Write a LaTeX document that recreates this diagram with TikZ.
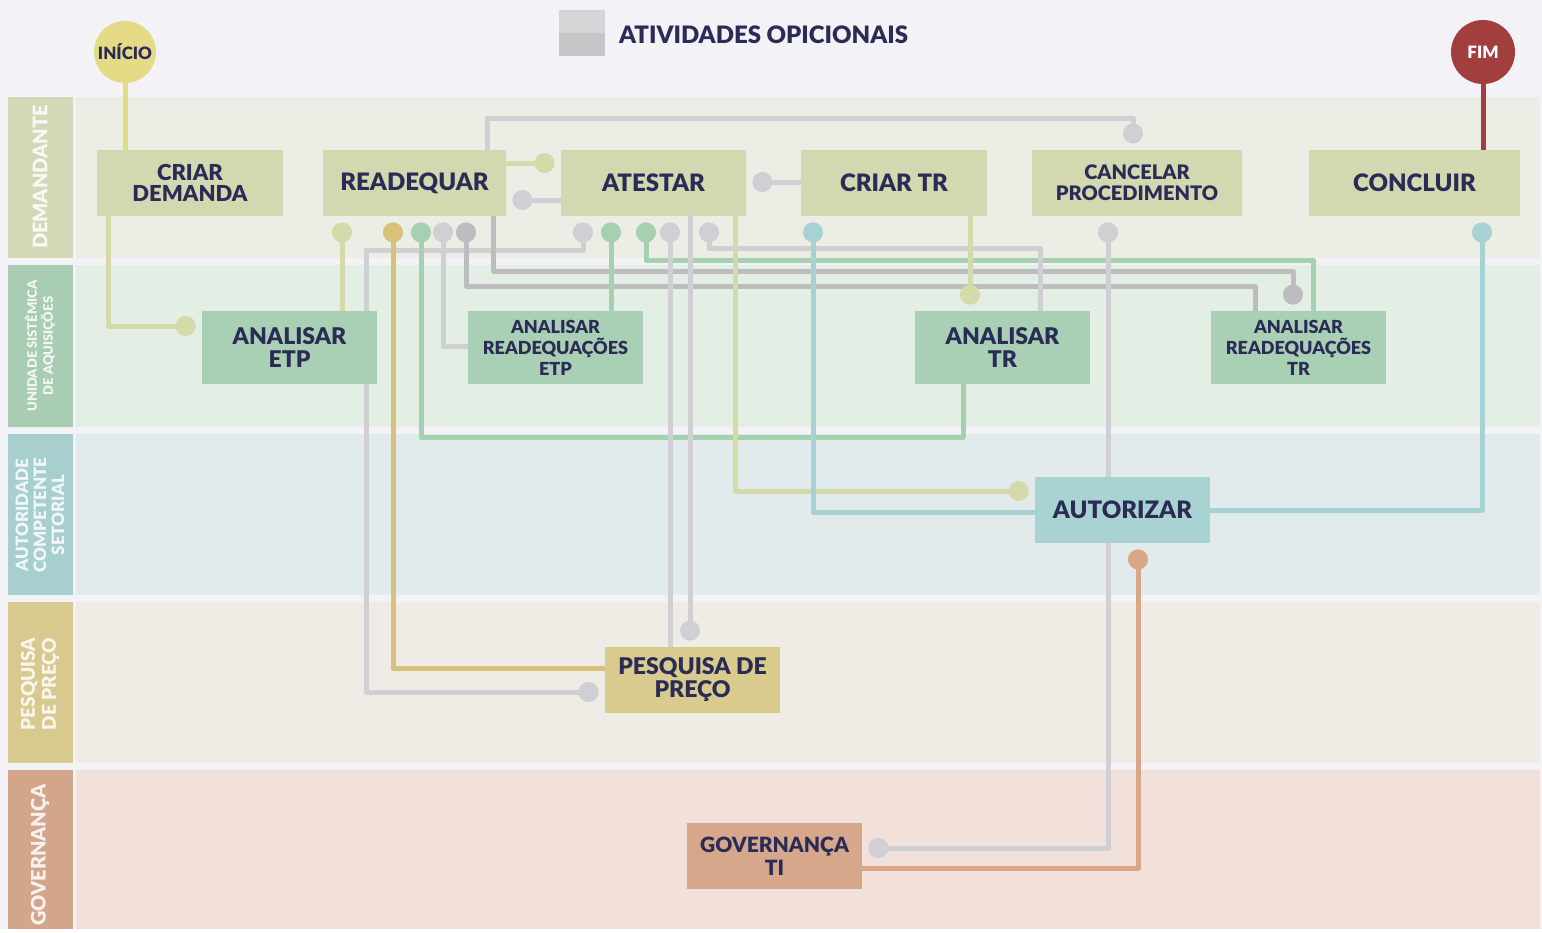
\documentclass[tikz,border=0pt]{standalone}
\usepackage{fontspec}
\setmainfont{Lato}[BoldFont={Lato Black}]
\usetikzlibrary{arrows.meta}
\definecolor{bgtop}{HTML}{F3F3F7}
\definecolor{navy}{HTML}{2A2C55}
\definecolor{hDem}{HTML}{D3D9B6}\definecolor{bDem}{HTML}{ECEEE6}
\definecolor{hUsa}{HTML}{A8CDB2}\definecolor{bUsa}{HTML}{E3EEE5}
\definecolor{hAut}{HTML}{A7CFCE}\definecolor{bAut}{HTML}{E2EBEB}
\definecolor{hPes}{HTML}{D8C98F}\definecolor{bPes}{HTML}{EFEBE5}
\definecolor{hGov}{HTML}{D3A58B}\definecolor{bGov}{HTML}{F2E0DA}
\definecolor{fDem}{HTML}{D2D9B1}
\definecolor{fUsa}{HTML}{A9CFB4}
\definecolor{fAut}{HTML}{A9D2D2}
\definecolor{fPes}{HTML}{D9CA8E}
\definecolor{fGov}{HTML}{D6A78B}
\definecolor{cLg}{HTML}{D0D0D4}
\definecolor{cDg}{HTML}{BDBDC0}
\definecolor{cOl}{HTML}{D5DAAB}
\definecolor{cGr}{HTML}{A5D1B0}
\definecolor{cTe}{HTML}{A6D2D3}
\definecolor{cTa}{HTML}{D8C27A}
\definecolor{cSa}{HTML}{DBA588}
\definecolor{cYe}{HTML}{E5DA86}
\definecolor{cRe}{HTML}{A23E3D}
\definecolor{lgA}{HTML}{D6D6D8}
\definecolor{lgB}{HTML}{C6C6C8}
\pgfdeclarelayer{lanes}
\pgfdeclarelayer{links}
\pgfsetlayers{lanes,links,main}
\tikzset{
  conn/.style={line width=2.5pt, line join=round, shorten >=3pt, -{Circle[length=10pt,width=10pt]}},
  plainlink/.style={line width=2.5pt, line join=round},
  box/.style={rectangle, inner sep=0pt, align=center, text=navy, font=\bfseries\fontsize{12}{13}\selectfont},
  topbox/.style={box, fill=fDem, minimum height=33pt},
  usabox/.style={box, fill=fUsa, minimum height=36.5pt, minimum width=87.5pt},
  lanetxt/.style={rotate=90, align=center, text=white, text opacity=0.85, font=\bfseries},
  endcirc/.style={circle, inner sep=0pt, font=\bfseries\fontsize{8.5}{9}\selectfont}
}
\begin{document}
\begin{tikzpicture}[x=0.5pt,y=-0.5pt]
\begin{pgfonlayer}{lanes}
\fill[bgtop] (0,0) rectangle (1542,929);
\fill[hDem] (8,97) rectangle (73,258);   \fill[bDem] (76,97) rectangle (1540,258);
\fill[hUsa] (8,265) rectangle (73,427);  \fill[bUsa] (76,265) rectangle (1540,427);
\fill[hAut] (8,434) rectangle (73,595);  \fill[bAut] (76,434) rectangle (1540,595);
\fill[hPes] (8,602) rectangle (73,763);  \fill[bPes] (76,602) rectangle (1540,763);
\fill[hGov] (8,770) rectangle (73,929);  \fill[bGov] (76,770) rectangle (1540,929);
\fill[lgA] (559,10) rectangle (605,33);
\fill[lgB] (559,33) rectangle (605,56);
\end{pgfonlayer}

% lane labels
\node[lanetxt, font=\bfseries\fontsize{10}{11}\selectfont] (lDem) at (40,177) {DEMANDANTE};
\node[lanetxt, font=\bfseries\fontsize{6.5}{8}\selectfont] (lUsa) at (40,346) {UNIDADE SISTÊMICA\\DE AQUISIÇÕES};
\node[lanetxt, font=\bfseries\fontsize{8.5}{9}\selectfont] (lAut) at (40,515) {AUTORIDADE\\COMPETENTE\\SETORIAL};
\node[lanetxt, font=\bfseries\fontsize{9.5}{10.5}\selectfont] (lPes) at (40,684) {PESQUISA\\DE PREÇO};
\node[lanetxt, font=\bfseries\fontsize{10}{11}\selectfont] (lGov) at (40,855) {GOVERNANÇA};

% legend
\node[anchor=west, text=navy, font=\bfseries\fontsize{12}{13}\selectfont] (legtxt) at (612,35) {ATIVIDADES OPICIONAIS};

% start / end
\node[endcirc, fill=cYe, text=navy, minimum size=31pt] (inicio) at (125,52) {INÍCIO};
\node[endcirc, fill=cRe, text=white, minimum size=32pt] (fim) at (1483,52) {FIM};

% Demandante
\node[topbox, minimum width=93pt, font=\bfseries\fontsize{11}{10.5}\selectfont] (criard) at (190,183) {CRIAR\\DEMANDA};
\node[topbox, minimum width=91.5pt] (readeq) at (414.5,183) {READEQUAR};
\node[topbox, minimum width=92.5pt] (atestar) at (653.5,183) {ATESTAR};
\node[topbox, minimum width=93pt] (criartr) at (894,183) {CRIAR TR};
\node[topbox, minimum width=105pt, font=\bfseries\fontsize{10}{10.5}\selectfont] (cancelar) at (1137,183) {CANCELAR\\PROCEDIMENTO};
\node[topbox, minimum width=105.5pt] (concluir) at (1414.5,183) {CONCLUIR};

% Unidade sistemica
\node[usabox, font=\bfseries\fontsize{11.5}{11.5}\selectfont] (anaetp) at (289.5,347.5) {ANALISAR\\ETP};
\node[usabox, font=\bfseries\fontsize{9}{10.5}\selectfont] (anareetp) at (555.5,347.5) {ANALISAR\\READEQUAÇÕES\\ETP};
\node[usabox, font=\bfseries\fontsize{11.5}{11.5}\selectfont] (anatr) at (1002.5,347.5) {ANALISAR\\TR};
\node[usabox, font=\bfseries\fontsize{9}{10.5}\selectfont] (anaretr) at (1298.5,347.5) {ANALISAR\\READEQUAÇÕES\\TR};

% Autoridade
\node[box, fill=fAut, minimum width=87.5pt, minimum height=33pt] (autorizar) at (1122.5,510) {AUTORIZAR};
% Pesquisa
\node[box, fill=fPes, minimum width=87.5pt, minimum height=33pt, font=\bfseries\fontsize{11.5}{11.5}\selectfont] (pesquisa) at (692.5,680) {PESQUISA DE\\PREÇO};
% Governanca
\node[box, fill=fGov, minimum width=87.5pt, minimum height=33pt, font=\bfseries\fontsize{10.5}{11.5}\selectfont] (govti) at (774.5,856) {GOVERNANÇA\\TI};

\begin{pgfonlayer}{links}
\draw[plainlink, cYe] (inicio.south) -- (inicio.south |- criard.north);
\draw[plainlink, cRe] (fim.south |- concluir.north) -- (fim.south);
% C3
\draw[conn, cOl] (criard.south -| 108,0) |- (anaetp.west |- 0,326);
% C4
\draw[conn, cOl] (anaetp.north -| 342,0) -- (readeq.south -| 342,0);
% C5
\draw[conn, cLg] (anaetp.north -| 366,0) |- (583,250) -- (atestar.south -| 583,0);
% C6
\draw[conn, cLg] (anaetp.south -| 366,0) |- (pesquisa.west |- 0,692);
% C7
\draw[conn, cTa] (pesquisa.west |- 0,668) -| (readeq.south -| 393,0);
% C8
\draw[conn, cGr] (anatr.south -| 963,0) |- (421,437) -- (readeq.south -| 421,0);
% C9
\draw[conn, cLg] (anareetp.west |- 0,346) -| (readeq.south -| 443,0);
% C10
\draw[conn, cDg] (anaretr.north -| 1255,0) |- (466,286) -- (readeq.south -| 466,0);
% C11
\draw[conn, cDg] (readeq.south -| 493,0) |- (1293,271) -- (anaretr.north -| 1293,0);
% C12
\draw[conn, cGr] (anareetp.north -| 611,0) -- (atestar.south -| 611,0);
% C13
\draw[conn, cGr] (anaretr.north -| 1313,0) |- (646,260) -- (atestar.south -| 646,0);
% C14
\draw[conn, cLg] (pesquisa.north -| 670,0) -- (atestar.south -| 670,0);
% C15
\draw[conn, cLg] (atestar.south -| 690,0) -- (pesquisa.north -| 690,0);
% C16
\draw[conn, cLg] (anatr.north -| 1040,0) |- (709,248) -- (atestar.south -| 709,0);
% C17
\draw[conn, cOl] (atestar.south -| 735,0) |- (autorizar.west |- 0,491);
% C18
\draw[conn, cTe] (autorizar.west |- 0,512) -| (criartr.south -| 813,0);
% C19
\draw[conn, cOl] (criartr.south -| 970,0) -- (anatr.north -| 970,0);
% C20
\draw[conn, cLg] (autorizar.north -| 1108,0) -- (cancelar.south -| 1108,0);
% C21
\draw[conn, cLg] (autorizar.south -| 1108,0) |- (govti.east |- 0,848);
% C22
\draw[conn, cSa] (govti.east |- 0,868) -| (autorizar.south -| 1138,0);
% C23
\draw[conn, cTe] (autorizar.east) -| (concluir.south -| 1482,0);
% C24
\draw[conn, cLg] (readeq.north -| 487,0) |- (1133,118) -- (cancelar.north -| 1133,0);
% C25
\draw[conn, cOl] (readeq.east |- 0,163) -- (atestar.west |- 0,163);
% C26
\draw[conn, cLg] (atestar.west |- 0,200) -- (readeq.east |- 0,200);
% C27
\draw[conn, cLg] (criartr.west |- 0,182) -- (atestar.east |- 0,182);
\end{pgfonlayer}
\end{tikzpicture}
\end{document}
